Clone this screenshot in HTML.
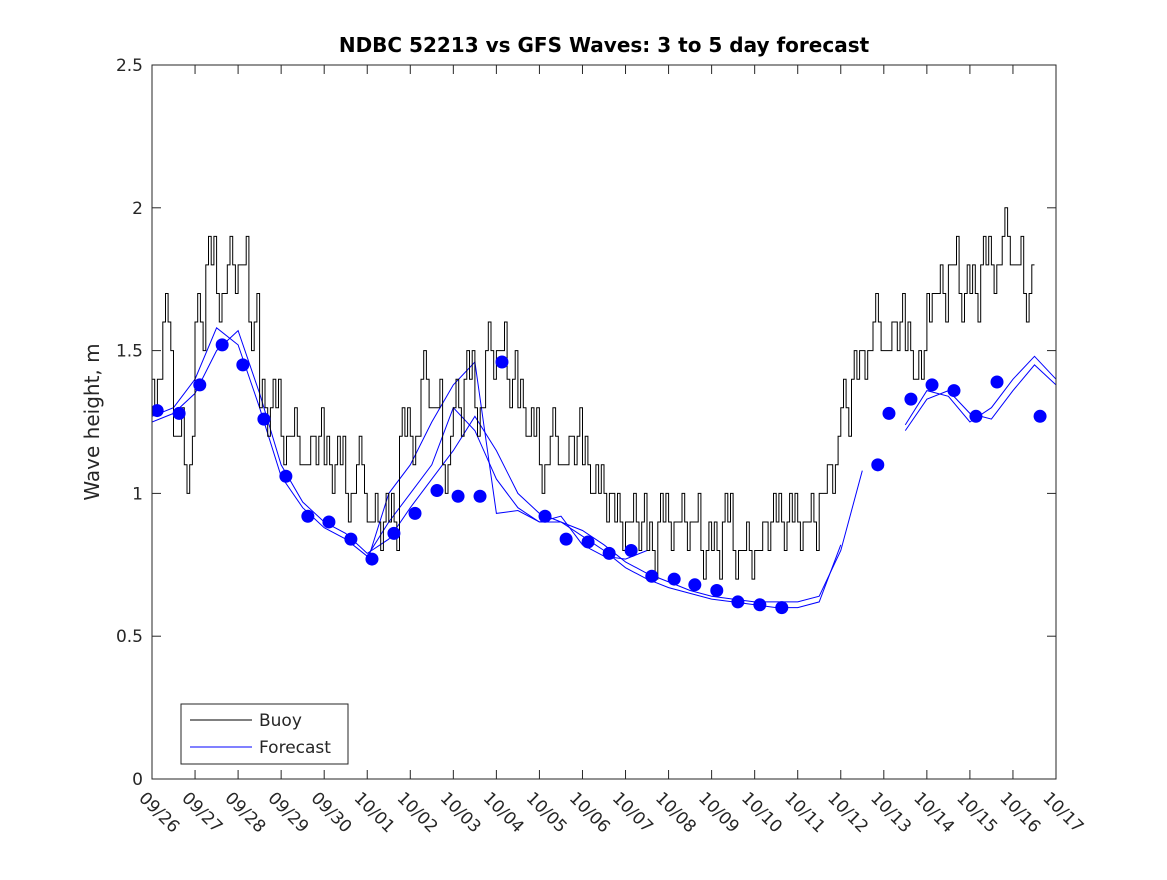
<!DOCTYPE html>
<html><head><meta charset="utf-8"><style>
body{margin:0;background:#fff;}
svg text{font-family:"DejaVu Sans","Liberation Sans",sans-serif;fill:#262626;}
</style></head><body>
<svg id="chart" width="1167" height="875" viewBox="0 0 1167 875" xmlns="http://www.w3.org/2000/svg">
<defs><clipPath id="plotclip"><rect x="152" y="65" width="904" height="714"/></clipPath></defs>
<rect width="1167" height="875" fill="#fff"/>
<text x="604" y="52" text-anchor="middle" font-size="20" font-weight="bold" style="fill:#000">NDBC 52213 vs GFS Waves: 3 to 5 day forecast</text>
<text transform="translate(99,422) rotate(-90)" text-anchor="middle" font-size="20">Wave height, m</text>
<g id="grid"></g>
<g id="series" clip-path="url(#plotclip)"></g>
<rect x="152" y="65" width="904" height="714" fill="none" stroke="#262626" stroke-width="1"/>
<g>
<rect x="181" y="704" width="167" height="60" fill="#fff" stroke="#262626"/>
<line x1="190" y1="720" x2="252" y2="720" stroke="#000"/>
<text x="259" y="726" font-size="17">Buoy</text>
<line x1="190" y1="747" x2="252" y2="747" stroke="#0000ff"/>
<text x="259" y="753" font-size="17">Forecast</text>
</g>
</svg>
<script>
const xTickLabels=["09/26","09/27","09/28","09/29","09/30","10/01","10/02","10/03","10/04","10/05","10/06","10/07","10/08","10/09","10/10","10/11","10/12","10/13","10/14","10/15","10/16","10/17"];
const yTicks=[0,0.5,1,1.5,2,2.5];
const buoyStep=0.25;
const buoyValues=[1.4,1.6,1.2,1.1, 1.6,1.8,1.7,1.8, 1.8,1.6,1.3,1.3, 1.2,1.2,1.1,1.2, 1.1,1.1,1.0,1.1, 0.9,0.9,0.9,1.2, 1.2,1.4,1.3,1.1, 1.3,1.4,1.3,1.5, 1.5,1.4,1.3,1.2, 1.1,1.2,1.1,1.2, 1.1,1.0,1.0,0.9, 0.9,0.9,0.8,0.9, 0.9,0.9,0.9,0.8, 0.8,0.9,0.8,0.8, 0.8,0.9,0.9,0.9, 0.9,0.9,1.0,1.1, 1.3,1.4,1.5,1.6, 1.5,1.6,1.5,1.4, 1.7,1.7,1.8,1.7, 1.7,1.8,1.8,1.9, 1.8,1.7];
const buoyNoise=[0.1,-0.1,0.1,0,-0.1,0.1];
const dotDays=[0.12,0.63,1.11,1.63,2.11,2.6,3.11,3.62,4.11,4.62,5.11,5.62,6.11,6.62,7.11,7.62,8.13,9.13,9.62,10.13,10.62,11.13,11.61,12.13,12.61,13.12,13.61,14.12,14.63,16.86,17.12,17.63,18.12,18.63,19.14,19.63,20.63];
const dotValues=[1.29,1.28,1.38,1.52,1.45,1.26,1.06,0.92,0.90,0.84,0.77,0.86,0.93,1.01,0.99,0.99,1.46,0.92,0.84,0.83,0.79,0.80,0.71,0.70,0.68,0.66,0.62,0.61,0.60,1.10,1.28,1.33,1.38,1.36,1.27,1.39,1.27];
const fcStep=0.5;
const forecast1=[1.25,1.28,1.35,1.5,1.57,1.35,1.1,0.97,0.9,0.86,0.79,0.84,0.95,1.05,1.15,1.27,1.15,1.0,0.93,0.9,0.87,0.82,0.76,0.72,0.69,0.66,0.64,0.63,0.62,0.62,0.62,0.64,0.8,1.08,null,1.22,1.33,1.36,1.28,1.26,1.36,1.45,1.38,1.1];
const forecast2=[1.27,1.3,1.4,1.58,1.52,1.3,1.06,0.95,0.88,0.84,0.78,0.9,1.0,1.1,1.3,1.22,1.05,0.95,0.9,0.9,0.85,0.8,0.74,0.7,0.67,0.65,0.63,0.62,0.61,0.6,0.6,0.62,0.82,null,null,1.24,1.36,1.34,1.25,1.3,1.4,1.48,1.4,1.2];
const forecast3=[null,null,null,null,null,null,null,null,null,null,0.76,1.0,1.1,1.25,1.38,1.46,0.93,0.94,0.9,0.92,0.82,0.78,0.77,0.8];
const X0=152,X1=1056,Y0=779,Y1=65;
const xs=d=>X0+d*(X1-X0)/21;
const ys=v=>Y0-v*(Y0-Y1)/2.5;
const NS="http://www.w3.org/2000/svg";
const grid=document.getElementById('grid'),ser=document.getElementById('series');
function mk(t,a,p){const e=document.createElementNS(NS,t);for(const k in a)e.setAttribute(k,a[k]);p.appendChild(e);return e;}
xTickLabels.forEach((l,i)=>{const x=xs(i);
 const t=mk('line',{x1:x,y1:Y0,x2:x,y2:Y0-9,stroke:'#262626'},grid);
 
 
 mk('line',{x1:x,y1:Y1,x2:x,y2:Y1+9,stroke:'#262626'},grid);
 const tx=mk('text',{transform:`translate(${x-14},${Y0+20}) rotate(45)`,'font-size':17},grid);
 
 
 tx.textContent=l;});
yTicks.forEach(v=>{const y=ys(v);
 mk('line',{x1:X0,y1:y,x2:X0+9,y2:y,stroke:'#262626'},grid);
 mk('line',{x1:X1,y1:y,x2:X1-9,y2:y,stroke:'#262626'},grid);
 const tx=mk('text',{x:X0-9,y:y+6,'text-anchor':'end','font-size':17},grid);
 
 
 tx.textContent=String(v);});
function linePath(arr,step){let d='',pen=false;arr.forEach((v,i)=>{if(v==null){pen=false;return;}d+=(pen?'L':'M')+xs(i*step).toFixed(1)+','+ys(v).toFixed(1);pen=true;});return d;}
[forecast1,forecast2,forecast3].forEach((f,k)=>{const p=mk('path',{d:linePath(f,fcStep),fill:'none',stroke:'#0000ff','stroke-width':1},ser);
 
 });
let bd='';buoyValues.forEach((v,i)=>{const sub=4;for(let j=0;j<sub;j++){const d=i*buoyStep+j*buoyStep/sub;const vv=v+((j%2)?buoyNoise[(i+j)%buoyNoise.length]:0);const x=xs(d),x2=xs(d+buoyStep/sub);bd+=(bd?'L':'M')+x.toFixed(1)+','+ys(vv).toFixed(1)+'L'+x2.toFixed(1)+','+ys(vv).toFixed(1);}});
const bp=mk('path',{d:bd,fill:'none',stroke:'#000','stroke-width':1},ser);


dotDays.forEach((d,i)=>{const c=mk('circle',{cx:xs(d),cy:ys(dotValues[i]),r:6.5,fill:'#0000ff'},ser);
 
 });
</script>
</body></html>
